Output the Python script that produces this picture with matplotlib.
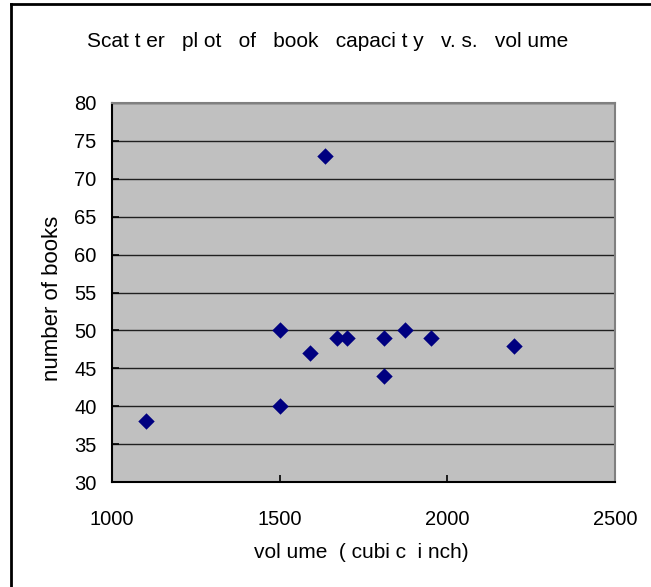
import matplotlib
matplotlib.use("Agg")
import matplotlib.pyplot as plt
from matplotlib.lines import Line2D

volume = [1100, 1500, 1500, 1590, 1635, 1670, 1700, 1810, 1810, 1875, 1950, 2200]
books = [38, 50, 40, 47, 73, 49, 49, 49, 44, 50, 49, 48]

x_ticks = [1000, 1500, 2000, 2500]
y_ticks = [30, 35, 40, 45, 50, 55, 60, 65, 70, 75, 80]

plt.rcParams["font.family"] = ["Liberation Sans", "DejaVu Sans"]

fig = plt.figure(figsize=(6.51, 5.87), dpi=100)
W, H = 651, 587
ax = fig.add_axes([112 / W, (H - 482) / H, (615 - 112) / W, (482 - 103) / H])
ax.set_facecolor("#c0c0c0")

ax.scatter(volume, books, marker="D", s=70, color="#000080", zorder=3, linewidths=0)

ax.set_xlim(1000, 2500)
ax.set_ylim(30, 80)
ax.set_xticks(x_ticks)
ax.set_yticks(y_ticks)
ax.tick_params(direction="in", length=5, width=1.2, labelsize=14.5, color="black")
ax.tick_params(axis="x", pad=20)
ax.tick_params(axis="y", pad=11)
ax.yaxis.grid(True, color="#202020", linewidth=1)
ax.set_axisbelow(True)

for s in ["left", "bottom"]:
    ax.spines[s].set_color("black")
    ax.spines[s].set_linewidth(1.5)
for s in ["top", "right"]:
    ax.spines[s].set_color("#808080")
    ax.spines[s].set_linewidth(1.5)

ax.set_xlabel("vol ume  ( cubi c  i nch)", fontsize=15, va="baseline")
ax.xaxis.set_label_coords((361 - 112) / 503, (482 - 558) / 379)
ax.set_ylabel("number of books", fontsize=16, va="center")
ax.yaxis.set_label_coords((52 - 112) / 503, (482 - 298) / 379)

fig.text(328 / W, 1 - 47 / H, "Scat t er   pl ot   of   book   capaci t y   v. s.   vol ume",
         fontsize=15, ha="center", va="baseline")

# outer chart border (only left and top edges visible in the image)
fig.add_artist(Line2D([11 / W, 11 / W], [0, 1 - 4 / H], color="black", linewidth=2,
                      transform=fig.transFigure))
fig.add_artist(Line2D([11 / W, 1], [1 - 4 / H, 1 - 4 / H], color="black", linewidth=2,
                      transform=fig.transFigure))

fig.savefig("out.png", dpi=100, facecolor="white")
